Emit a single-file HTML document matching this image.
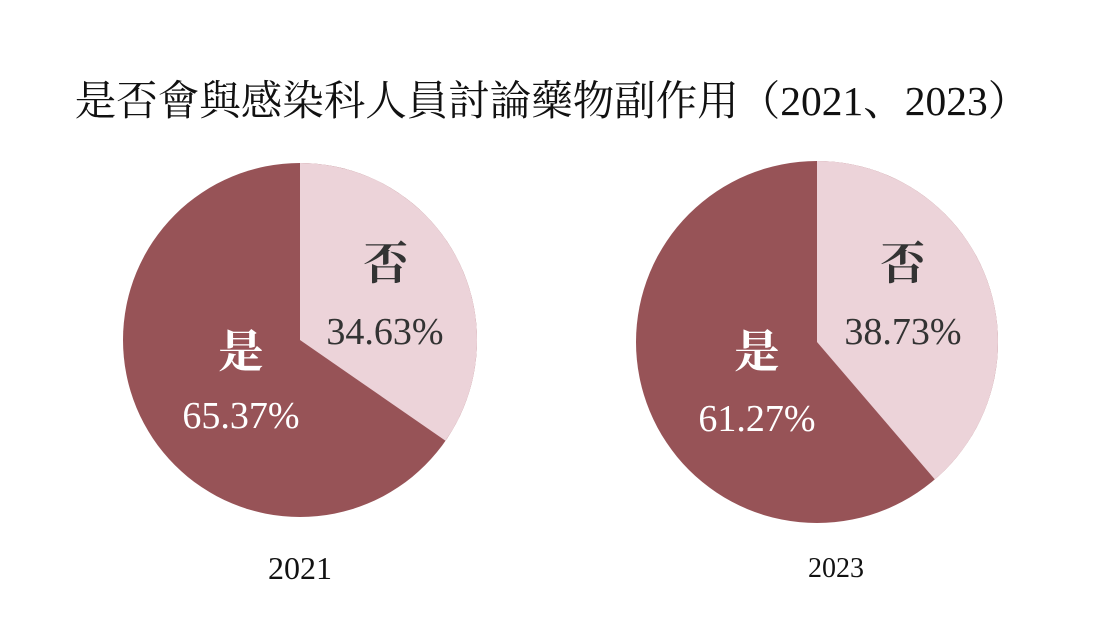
<!DOCTYPE html>
<html><head><meta charset="utf-8"><style>
html,body{margin:0;padding:0;background:#fff;}
svg{display:block;}
</style></head><body>
<svg width="1100" height="619" viewBox="0 0 1100 619" xmlns="http://www.w3.org/2000/svg">
<rect width="1100" height="619" fill="#fff"/>
<text x="552" y="115" text-anchor="middle" font-family="'Liberation Serif','Noto Serif CJK SC',serif" font-size="41.5" fill="#111">是否會與感染科人員討論藥物副作用（2021、2023）</text>
<circle cx="300" cy="340" r="177" fill="#975357"/>
<path d="M300 340 L300 163 A177 177 0 0 1 445.5 440.8 Z" fill="#ecd3d9"/>
<circle cx="817" cy="342" r="181" fill="#975357"/>
<path d="M817 342 L817 161 A181 181 0 0 1 934.8 479.4 Z" fill="#ecd3d9"/>
<g font-family="'Liberation Serif','Noto Serif CJK SC',serif" text-anchor="middle">
<text x="386" y="279" font-size="45" fill="#333" font-weight="bold">否</text>
<text x="385" y="344" font-size="38" fill="#333">34.63%</text>
<text x="241" y="367" font-size="45" fill="#fff" font-weight="bold">是</text>
<text x="241" y="428" font-size="38" fill="#fff">65.37%</text>
<text x="903" y="279" font-size="45" fill="#333" font-weight="bold">否</text>
<text x="903" y="344" font-size="38" fill="#333">38.73%</text>
<text x="757" y="367" font-size="45" fill="#fff" font-weight="bold">是</text>
<text x="757" y="431" font-size="38" fill="#fff">61.27%</text>
<text x="300" y="579" font-size="32" fill="#111">2021</text>
<text x="836" y="577" font-size="28" fill="#111">2023</text>
</g>
</svg>
</body></html>
